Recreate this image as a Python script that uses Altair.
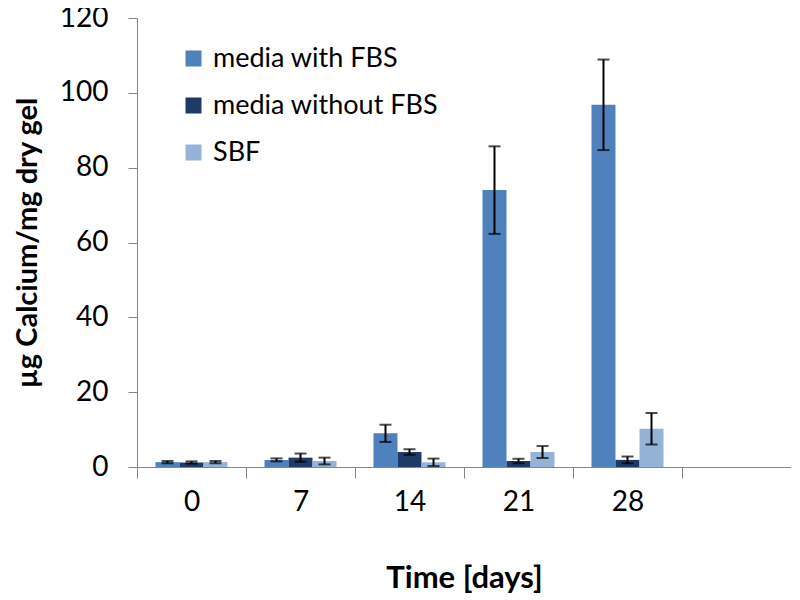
import altair as alt
import pandas as pd

days = ["0", "7", "14", "21", "28"]
x_domain = ["0", "7", "14", "21", "28", " "]
series = ["media with FBS", "media without FBS", "SBF"]
colors = ["#4F81BD", "#1F3A68", "#95B3D7"]

with_fbs = [1.3, 1.9, 9.0, 74.0, 96.8]
with_fbs_err = [0.3, 0.4, 2.3, 11.7, 12.1]
without_fbs = [1.2, 2.5, 4.0, 1.6, 1.9]
without_fbs_err = [0.3, 1.1, 0.75, 0.6, 0.9]
sbf = [1.3, 1.6, 1.25, 4.0, 10.2]
sbf_err = [0.3, 0.9, 1.0, 1.6, 4.2]

rows = []
for name, vals, errs in zip(series, [with_fbs, without_fbs, sbf], [with_fbs_err, without_fbs_err, sbf_err]):
    for d, v, e in zip(days, vals, errs):
        rows.append({"day": d, "series": name, "value": v, "lo": v - e, "hi": v + e})
df = pd.DataFrame(rows)

FONT = "Lato"

x_scale = alt.Scale(domain=x_domain, paddingInner=0, paddingOuter=0)
x = alt.X("day:N", scale=x_scale,
          axis=alt.Axis(title="Time [days]", labelAngle=0, tickBand="extent", tickSize=11,
                        labelPadding=10, labelFontSize=28, labelFont=FONT, labelColor="black",
                        titleFont=FONT, titleFontSize=31, titleFontWeight="bold", titleColor="black",
                        titleY=120, titleBaseline="alphabetic",
                        domainColor="#868686", tickColor="#868686", grid=False))
xo = alt.XOffset("series:N", sort=series,
                 scale=alt.Scale(domain=series, paddingInner=0, paddingOuter=0.77))
y_scale = alt.Scale(domain=[0, 120], nice=False)

bars = alt.Chart(df).mark_bar().encode(
    x=x,
    xOffset=xo,
    y=alt.Y("value:Q", scale=y_scale,
            axis=alt.Axis(title="µg Calcium/mg dry gel", values=[0, 20, 40, 60, 80, 100, 120],
                          tickSize=9, labelPadding=20, labelFontSize=28, labelFont=FONT,
                          labelColor="black", titleFont=FONT, titleFontSize=29,
                          titleFontWeight="bold", titleColor="black",
                          titleX=-110, titleY=224.5, titleBaseline="middle", titleAlign="center",
                          domainColor="#868686", tickColor="#868686", grid=False)),
    color=alt.Color("series:N", sort=series, scale=alt.Scale(domain=series, range=colors),
                    legend=alt.Legend(title=None, orient="none", legendX=43, legendY=27,
                                      symbolType="square", symbolSize=256, symbolStrokeWidth=0,
                                      labelFont=FONT, labelFontSize=27, labelColor="black",
                                      labelLimit=0, rowPadding=19, labelOffset=6)),
)

rules = alt.Chart(df).mark_rule(color="black", strokeWidth=2).encode(
    x=alt.X("day:N", scale=x_scale),
    xOffset=xo,
    y=alt.Y("lo:Q", scale=y_scale),
    y2="hi:Q",
)
cap_lo = alt.Chart(df).mark_tick(color="black", thickness=2, size=12).encode(
    x=alt.X("day:N", scale=x_scale),
    xOffset=xo,
    y=alt.Y("lo:Q", scale=y_scale),
)
cap_hi = alt.Chart(df).mark_tick(color="black", thickness=2, size=12).encode(
    x=alt.X("day:N", scale=x_scale),
    xOffset=xo,
    y=alt.Y("hi:Q", scale=y_scale),
)

chart = alt.layer(bars, rules, cap_lo, cap_hi).properties(
    width=654, height=449,
    autosize=alt.AutoSizeParams(type="none"),
    padding={"left": 129, "top": 10, "right": 0, "bottom": 130},
).configure_view(stroke=None)

chart.save("out.html", embed_options={"renderer": "svg", "actions": False})
